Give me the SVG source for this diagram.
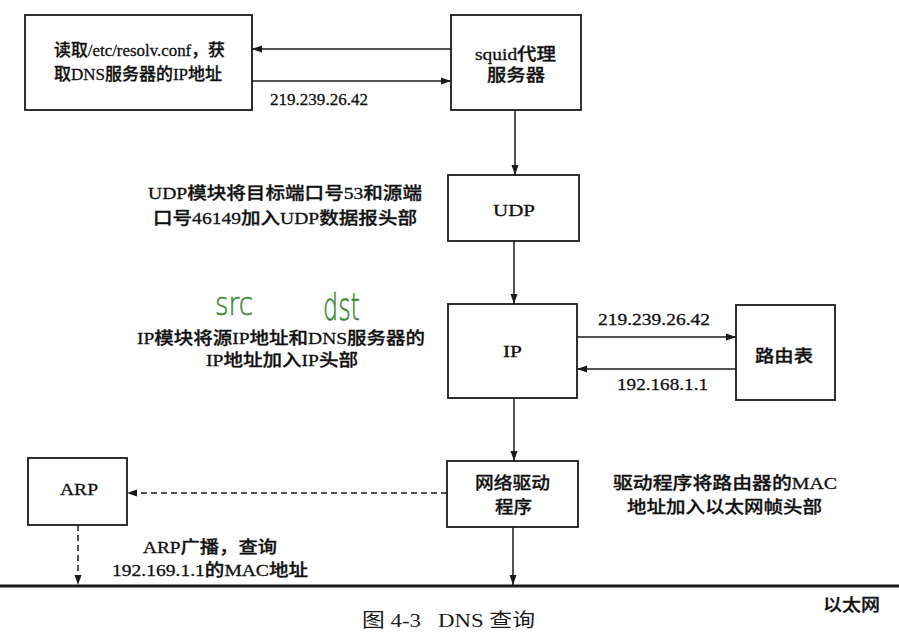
<svg xmlns="http://www.w3.org/2000/svg" width="899" height="637" viewBox="0 0 899 637">
<defs>
<marker id="ah" markerUnits="userSpaceOnUse" markerWidth="10" markerHeight="8" refX="10" refY="4" orient="auto">
<path d="M0,0.5 L10,4 L0,7.5 z" fill="#1a1a1a"/>
</marker>
<style>
.box{fill:#fff;stroke:#1a1a1a;stroke-width:1.8}
.t{font-family:"Liberation Serif","Noto Sans CJK SC",serif;font-size:17px;font-weight:500;fill:#111;stroke:#111;stroke-width:0.3;text-anchor:middle}
.c{stroke:#1a1a1a;stroke-width:1.5;fill:none}
.d{stroke:#1a1a1a;stroke-width:1.5;fill:none;stroke-dasharray:6,4}
.hw{font-family:"DejaVu Sans",sans-serif;font-weight:200;fill:#3d8a35;text-anchor:middle}
.cap{font-family:"Liberation Serif","Noto Sans CJK SC",serif;font-size:19px;fill:#1a1a1a}
</style>
</defs>
<rect width="899" height="637" fill="#fff"/>

<g id="resolv">
<rect class="box" x="25" y="15" width="227" height="95"/>
<text class="t" x="139.5" y="56" textLength="171" lengthAdjust="spacingAndGlyphs">读取/etc/resolv.conf，获</text>
<text class="t" x="138" y="80" textLength="168" lengthAdjust="spacingAndGlyphs">取DNS服务器的IP地址</text>
</g>

<g id="squid">
<rect class="box" x="451" y="15" width="130" height="95"/>
<text class="t" x="515.5" y="60" textLength="81" lengthAdjust="spacingAndGlyphs">squid代理</text>
<text class="t" x="516" y="81" textLength="58" lengthAdjust="spacingAndGlyphs">服务器</text>
</g>

<g id="udp">
<rect class="box" x="448" y="175" width="131" height="66"/>
<text class="t" x="514" y="216" textLength="42" lengthAdjust="spacingAndGlyphs">UDP</text>
</g>

<g id="ip">
<rect class="box" x="448" y="304" width="129" height="94"/>
<text class="t" x="512.5" y="357" textLength="19" lengthAdjust="spacingAndGlyphs">IP</text>
</g>

<g id="route">
<rect class="box" x="736" y="305" width="99" height="95"/>
<text class="t" x="784" y="362" textLength="58" lengthAdjust="spacingAndGlyphs">路由表</text>
</g>

<g id="driver">
<rect class="box" x="447" y="461" width="131" height="66"/>
<text class="t" x="512.5" y="489" textLength="75" lengthAdjust="spacingAndGlyphs">网络驱动</text>
<text class="t" x="513.5" y="513" textLength="37" lengthAdjust="spacingAndGlyphs">程序</text>
</g>

<g id="arp">
<rect class="box" x="28" y="458" width="99" height="67"/>
<text class="t" x="79" y="495" textLength="38" lengthAdjust="spacingAndGlyphs">ARP</text>
</g>

<g id="ethernet">
<line x1="0" y1="586" x2="899" y2="586" stroke="#1a1a1a" stroke-width="3"/>
<text class="t" x="851.5" y="611" textLength="57" lengthAdjust="spacingAndGlyphs">以太网</text>
</g>

<g id="connectors">
<line class="c" x1="451" y1="49" x2="252" y2="49" marker-end="url(#ah)"/>
<line class="c" x1="252" y1="81" x2="451" y2="81" marker-end="url(#ah)"/>
<line class="c" x1="515" y1="110" x2="515" y2="175" marker-end="url(#ah)"/>
<line class="c" x1="514" y1="241" x2="514" y2="304" marker-end="url(#ah)"/>
<line class="c" x1="577" y1="337" x2="736" y2="337" marker-end="url(#ah)"/>
<line class="c" x1="736" y1="369" x2="577" y2="369" marker-end="url(#ah)"/>
<line class="c" x1="514" y1="398" x2="514" y2="461" marker-end="url(#ah)"/>
<line class="d" x1="447" y1="493" x2="127" y2="493" marker-end="url(#ah)"/>
<line class="d" x1="78" y1="525" x2="78" y2="585" marker-end="url(#ah)"/>
<line class="c" x1="513" y1="527" x2="513" y2="585" marker-end="url(#ah)"/>
</g>

<g id="labels">
<text class="t" x="319" y="105" textLength="98" lengthAdjust="spacingAndGlyphs">219.239.26.42</text>
<text class="t" x="285" y="199" textLength="274" lengthAdjust="spacingAndGlyphs">UDP模块将目标端口号53和源端</text>
<text class="t" x="285" y="224" textLength="264" lengthAdjust="spacingAndGlyphs">口号46149加入UDP数据报头部</text>
<text class="t" x="281" y="344" textLength="288" lengthAdjust="spacingAndGlyphs">IP模块将源IP地址和DNS服务器的</text>
<text class="t" x="282" y="366" textLength="152" lengthAdjust="spacingAndGlyphs">IP地址加入IP头部</text>
<text class="t" x="654" y="325" textLength="112" lengthAdjust="spacingAndGlyphs">219.239.26.42</text>
<text class="t" x="662.5" y="390" textLength="91" lengthAdjust="spacingAndGlyphs">192.168.1.1</text>
<text class="t" x="725" y="489" textLength="224" lengthAdjust="spacingAndGlyphs">驱动程序将路由器的MAC</text>
<text class="t" x="724.5" y="513" textLength="195" lengthAdjust="spacingAndGlyphs">地址加入以太网帧头部</text>
<text class="t" x="210" y="553" textLength="134" lengthAdjust="spacingAndGlyphs">ARP广播，查询</text>
<text class="t" x="210" y="576" textLength="196" lengthAdjust="spacingAndGlyphs">192.169.1.1的MAC地址</text>
<text class="hw" x="234" y="315" font-size="32" stroke="#3d8a35" stroke-width="0.6" textLength="38" lengthAdjust="spacingAndGlyphs">src</text>
<text class="hw" x="341.5" y="320" font-size="38" stroke="#3d8a35" stroke-width="0.6" textLength="37" lengthAdjust="spacingAndGlyphs">dst</text>
</g>

<g id="caption">
<text class="cap" x="362" y="627" textLength="173" lengthAdjust="spacingAndGlyphs" xml:space="preserve">图 4-3   DNS 查询</text>
</g>
</svg>
